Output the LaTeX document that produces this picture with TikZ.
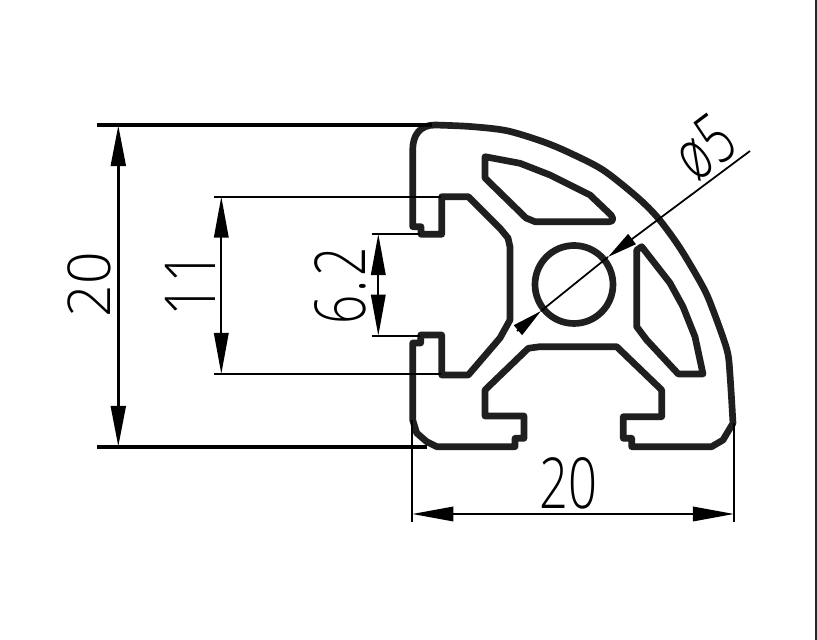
\documentclass[tikz,border=0pt]{standalone}
\usepackage{fontspec}
\usetikzlibrary{arrows.meta}
\newfontfamily\cadfont{Open Sans Light}
\tikzset{
  profil/.style={line width=1.9pt, line join=round, draw=black!88},
  masslinie/.style={line width=0.5pt, {Triangle[length=0.41cm,width=0.145cm]}-{Triangle[length=0.41cm,width=0.145cm]}},
  hilfslinie/.style={line width=0.5pt},
  pfeil/.style={line width=0.5pt, -{Triangle[length=0.3cm,width=0.125cm]}},
  masstext/.style={font=\cadfont\fontsize{20}{20}\selectfont, inner sep=0pt}
}
\begin{document}
\begin{tikzpicture}[x=0.01cm,y=-0.01cm]
\useasboundingbox (0,0) rectangle (817,640);
\fill[white] (0,0) rectangle (817,640);
% rand
\coordinate (r1) at (816,0);
\coordinate (r2) at (816,640);
\draw[line width=0.6pt, black!85] (r1) -- (r2);
% aussen
\draw[profil] (412.7,226.7) -- (421,226.7) -- (421,234.3) -- (441.7,234.3) -- (441.7,196.7)
  -- (468.3,196.7) -- (500,228.3) -- (508,238) -- (510,247) -- (510,320) -- (500,338)
  -- (468.3,375) -- (441.7,375) -- (441.7,335) -- (420.7,335) -- (420.7,343) -- (412.7,343)
  -- (412.7,420) -- (416.7,433) -- (426.7,441.7) -- (436.7,446.7) -- (515,446.7)
  -- (515,438.3) -- (524,438.3) -- (524,416) -- (485,416) -- (485,390) -- (528.3,348.3)
  -- (540,346.7) -- (616.7,346.7) -- (661.7,390) -- (661.7,416.7) -- (623.3,416.7)
  -- (623.3,438.3) -- (631.7,438.3) -- (631.7,446.7) -- (711.7,446.7) -- (723,440)
  -- (733,423.3) -- plot[smooth, tension=0.5] coordinates {(733,423.3) (730,375) (727,350) (713,310) (703,287)
  (680,248) (658,218) (637,197) (603,170) (570,153) (543,141.7) (506.7,130.7) (470,126.5) (435,125)}
  .. controls (420,125) and (412.7,135) .. (412.7,150) -- cycle;
% tasche oben
\draw[profil] (485,156.7) -- (520,163.3) -- (550,175) -- (590,195) -- (611,215)
  .. controls (614,219) and (613,221.7) .. (609,221.7) -- (535,221.7) -- (526,218) -- (485,178) -- cycle;
% tasche rechts
\draw[profil] (641.7,246.7) -- (636.7,250) -- (636.7,326.7) -- (646.7,340) -- (678.3,374)
  -- (703,374) -- (695,336.7) -- (683,306.7) -- (670,283) -- cycle;
% bohrung
\draw[profil] (574,284.5) circle (39);
% 20 links
\coordinate (la) at (97,125);
\coordinate (lb) at (432,125);
\coordinate (lc) at (97,447);
\coordinate (ld) at (427,447);
\coordinate (le) at (118.3,125);
\coordinate (lf) at (118.3,447);
\draw[line width=1pt] (la) -- (lb);
\draw[line width=1pt] (lc) -- (ld);
\draw[masslinie, line width=1pt] (le) -- (lf);
\node[masstext, rotate=90, xscale=0.81, yscale=0.84] (t20a) at (89,285) {20};
% 11
\coordinate (ma) at (214,196.7);
\coordinate (mb) at (441,196.7);
\coordinate (mc) at (214,374);
\coordinate (md) at (441,374);
\coordinate (me) at (221.3,196.7);
\coordinate (mf) at (221.3,374);
\draw[hilfslinie] (ma) -- (mb);
\draw[hilfslinie] (mc) -- (md);
\draw[masslinie] (me) -- (mf);
\node[masstext, rotate=90, xscale=0.8] (t11) at (190,284) {11};
% 6.2
\coordinate (na) at (371.7,234);
\coordinate (nb) at (420,234);
\coordinate (nc) at (371.7,335.7);
\coordinate (nd) at (420,335.7);
\coordinate (ne) at (378.3,234);
\coordinate (nf) at (378.3,335.7);
\draw[hilfslinie] (na) -- (nb);
\draw[hilfslinie] (nc) -- (nd);
\draw[masslinie] (ne) -- (nf);
\node[masstext, rotate=90, xscale=0.73] (t62) at (340,286) {6\kern.07em.\kern.07em2};
% 20 unten
\coordinate (ua) at (412.3,420);
\coordinate (ub) at (412.3,521.7);
\coordinate (uc) at (734,423);
\coordinate (ud) at (734,521.7);
\coordinate (ue) at (412.3,514);
\coordinate (uf) at (734,514);
\draw[hilfslinie] (ua) -- (ub);
\draw[hilfslinie] (uc) -- (ud);
\draw[masslinie] (ue) -- (uf);
\node[masstext, xscale=0.72] (t20b) at (568.5,483) {20};
% durchmesser
\coordinate (da) at (750,151);
\coordinate (db) at (608,257);
\coordinate (dc) at (541,311);
\coordinate (dd) at (517,331);
\draw[pfeil] (da) -- (db);
\draw[hilfslinie] (db) -- (dc);
\draw[pfeil] (dd) -- (dc);
\node[masstext, rotate=37, xscale=0.68] (t5) at (704,147) {ø5};
\end{tikzpicture}
\end{document}
